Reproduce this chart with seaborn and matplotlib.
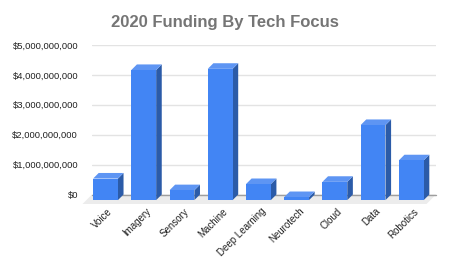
import matplotlib
matplotlib.use("Agg")
import matplotlib.pyplot as plt
import seaborn as sns
import pandas as pd
from matplotlib.patches import Polygon
from matplotlib.ticker import FuncFormatter
from matplotlib.transforms import ScaledTranslation

categories = ["Voice", "Imagery", "Sensory", "Machine", "Deep Learning",
              "Neurotech", "Cloud", "Data", "Robotics"]
funding = [0.72e9, 4.35e9, 0.33e9, 4.39e9, 0.535e9, 0.1e9, 0.61e9, 2.51e9, 1.33e9]
yticks = [0, 1e9, 2e9, 3e9, 4e9, 5e9]
title = "2020 Funding By Tech Focus"

FRONT = "#4285F4"
SIDE = "#2B5BA8"
TOP = "#5E95F3"

sns.set_theme(style="white")
plt.rcParams["font.family"] = ["Liberation Sans", "DejaVu Sans"]

W, H = 450, 278
fig = plt.figure(figsize=(W / 100, H / 100), dpi=100)
ax = fig.add_axes([92 / W, 1 - 194.5 / H, (436 - 92) / W, (194.5 - 45) / H])

df = pd.DataFrame({"category": categories, "funding": funding})
sns.barplot(data=df, x="category", y="funding", color=FRONT, saturation=1,
            width=0.65, ax=ax, zorder=3)

ax.set_xlim(-0.5, len(categories) - 0.5)
ax.set_ylim(0, 5e9)
ax.set_yticks(yticks)
ax.yaxis.set_major_formatter(FuncFormatter(lambda v, p: f"${v:,.0f}"))
ax.set_xlabel("")
ax.set_ylabel("")
for s in ax.spines.values():
    s.set_visible(False)
ax.tick_params(axis="y", length=0, pad=10, labelsize=6.8, labelcolor="#222222")
ax.tick_params(axis="x", length=0, pad=11, labelsize=7, labelcolor="#222222")
for lab in ax.get_xticklabels():
    lab.set_rotation(45)
    lab.set_ha("right")
    lab.set_rotation_mode("anchor")
    lab.set_va("center")

# gridlines (back wall)
for t in yticks[1:]:
    ax.axhline(t, color="#e3e3e3", lw=1, zorder=1)

# 3D offsets in pixels
d = 5.6
fl = 9.5
to_disp = ax.transData.transform
inv = ax.transData.inverted().transform

def px_poly(pts, **kw):
    data_pts = [inv(p) for p in pts]
    poly = Polygon(data_pts, closed=True, transform=ax.transData,
                   clip_on=False, **kw)
    ax.add_patch(poly)

# floor
(xl, y0) = to_disp((-0.5, 0))
(xr, _) = to_disp((len(categories) - 0.5, 0))
px_poly([(xl, y0), (xr, y0), (xr - fl, y0 - fl), (xl - fl, y0 - fl)],
        facecolor="#ececec", edgecolor="none", zorder=0.5)
ax.plot([-0.5, len(categories) - 0.5], [0, 0], color="#9e9e9e", lw=1,
        zorder=1.5, clip_on=False)

offset = ScaledTranslation(-d / 100, -d / 100, fig.dpi_scale_trans)
for bar in list(ax.patches):
    if not hasattr(bar, "get_width") or bar.get_height() <= 0:
        continue
    x0 = bar.get_x()
    x1 = x0 + bar.get_width()
    h = bar.get_height()
    (px0, py0) = to_disp((x0, 0))
    (px1, py1) = to_disp((x1, h))
    # side face
    px_poly([(px1 - d, py0 - d), (px1 - d, py1 - d), (px1, py1), (px1, py0)],
            facecolor=SIDE, edgecolor="none", zorder=2.5)
    # top face
    px_poly([(px0 - d, py1 - d), (px1 - d, py1 - d), (px1, py1), (px0, py1)],
            facecolor=TOP, edgecolor="none", zorder=2.6)
    # front face: shift the seaborn bar
    bar.set_transform(ax.transData + offset)
    bar.set_clip_on(False)
    bar.set_edgecolor("none")
    bar.set_zorder(3)

fig.text(0.5, 1 - 23 / H, title, ha="center", va="center", fontsize=12,
         fontweight="bold", color="#757575")

fig.savefig("out.png", dpi=100, facecolor="white")
